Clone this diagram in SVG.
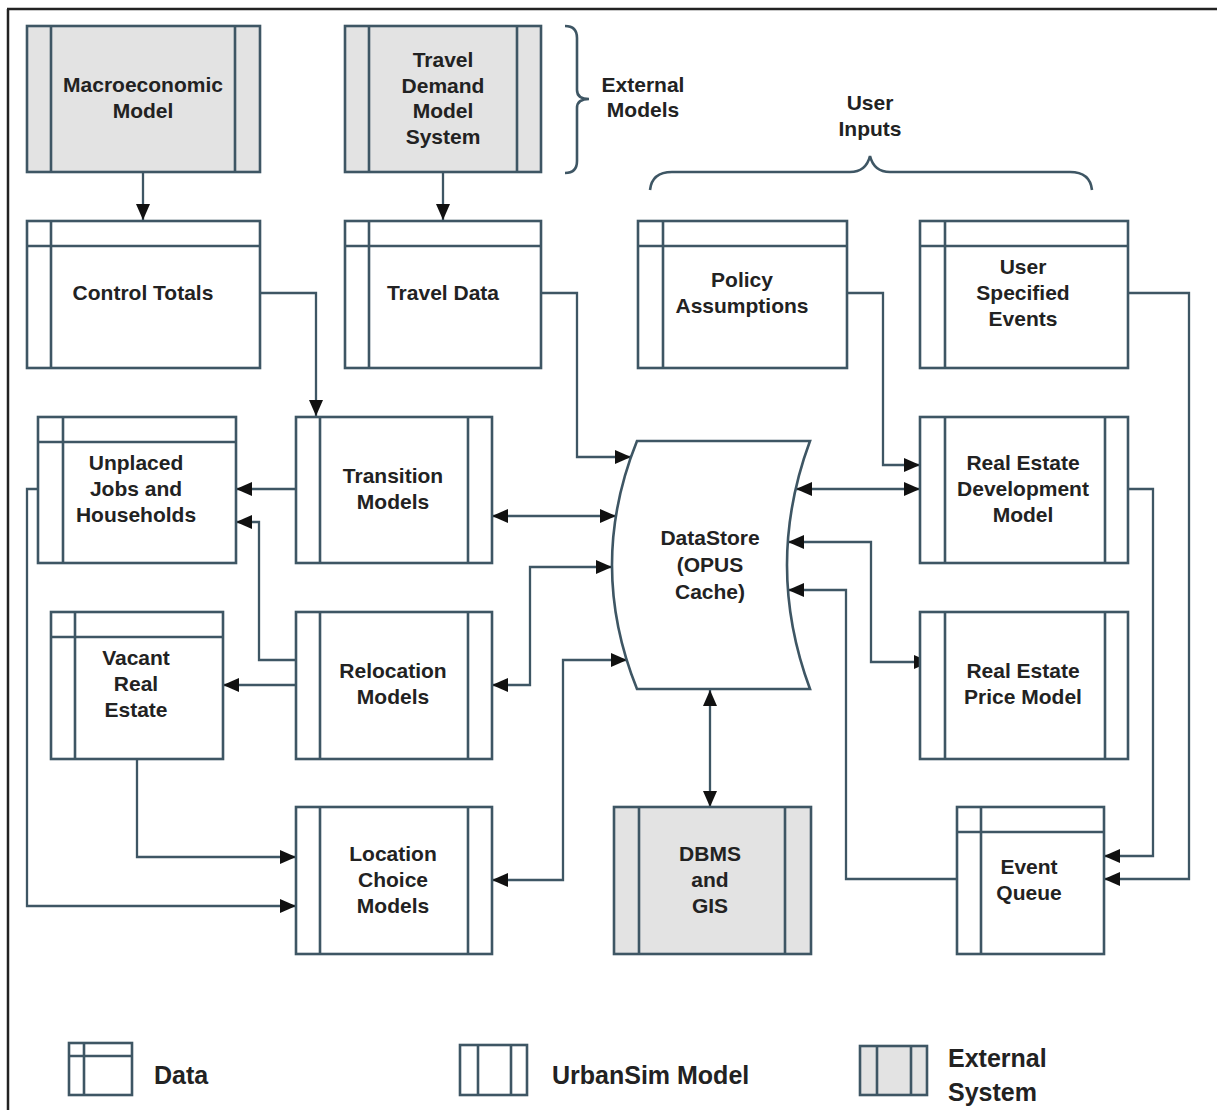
<svg xmlns="http://www.w3.org/2000/svg" width="1217" height="1110" viewBox="0 0 1217 1110">
<style>
.box{fill:#ffffff;stroke:#3e5664;stroke-width:2.6}
.ext{fill:#e3e3e3;stroke:#3e5664;stroke-width:2.6}
.ln{fill:none;stroke:#3e5664;stroke-width:2.6}
.con{fill:none;stroke:#3e5664;stroke-width:2.3}
.t{font-family:"Liberation Sans",Arial,sans-serif;font-weight:bold;font-size:21px;fill:#222222;text-anchor:middle}
.lg{font-family:"Liberation Sans",Arial,sans-serif;font-weight:bold;font-size:25px;fill:#222222}
</style>
<defs>
<marker id="ah" viewBox="0 0 16 14" refX="16" refY="7" markerWidth="16" markerHeight="14" markerUnits="userSpaceOnUse" orient="auto-start-reverse">
<path d="M0,0 L16,7 L0,14 z" fill="#111"/>
</marker>
</defs>
<rect width="1217" height="1110" fill="#ffffff"/>
<g id="frame">
<path d="M7,9 H1217 M8,9 V1110" fill="none" stroke="#222" stroke-width="2.5"/>
</g>

<g id="connectors">
<path class="con" d="M143,172 V220" marker-end="url(#ah)"/>
<path class="con" d="M443,172 V220" marker-end="url(#ah)"/>
<path class="con" d="M260,293 H316 V416" marker-end="url(#ah)"/>
<path class="con" d="M541,293 H577 V457 H631" marker-end="url(#ah)"/>
<path class="con" d="M848,293 H883 V465 H920" marker-end="url(#ah)"/>
<path class="con" d="M1128,293 H1189 V879 H1104" marker-end="url(#ah)"/>
<path class="con" d="M296,489 H236" marker-end="url(#ah)"/>
<path class="con" d="M296,660 H259 V522 H236" marker-end="url(#ah)"/>
<path class="con" d="M296,685 H223" marker-end="url(#ah)"/>
<path class="con" d="M492,516 H616" marker-start="url(#ah)" marker-end="url(#ah)"/>
<path class="con" d="M612,567 H530 V685 H492" marker-start="url(#ah)" marker-end="url(#ah)"/>
<path class="con" d="M627,660 H563 V880 H492" marker-start="url(#ah)" marker-end="url(#ah)"/>
<path class="con" d="M38,489 H27 V906 H296" marker-end="url(#ah)"/>
<path class="con" d="M137,759 V857 H296" marker-end="url(#ah)"/>
<path class="con" d="M710,690 V807" marker-start="url(#ah)" marker-end="url(#ah)"/>
<path class="con" d="M796,489 H920" marker-start="url(#ah)" marker-end="url(#ah)"/>
<path class="con" d="M788,542 H871 V662 H930" marker-start="url(#ah)" marker-end="url(#ah)"/>
<path class="con" d="M957,879 H846 V590 H788" marker-end="url(#ah)"/>
<path class="con" d="M1128,489 H1153 V856 H1104" marker-end="url(#ah)"/>
</g>

<g id="macroeconomic-model">
<rect class="ext" x="27" y="26" width="233" height="146"/>
<path class="ln" d="M51,26 V172 M235,26 V172"/>
<text class="t" x="143" y="92">Macroeconomic</text>
<text class="t" x="143" y="118">Model</text>
</g>

<g id="travel-demand-model-system">
<rect class="ext" x="345" y="26" width="196" height="146"/>
<path class="ln" d="M369,26 V172 M517,26 V172"/>
<text class="t" x="443" y="67">Travel</text>
<text class="t" x="443" y="93">Demand</text>
<text class="t" x="443" y="118">Model</text>
<text class="t" x="443" y="144">System</text>
</g>

<g id="external-models-label">
<path class="ln" d="M565,26 Q577,26 577,38 V90 Q577,99 589,99 Q577,99 577,108 V161 Q577,173 565,173"/>
<text class="t" x="643" y="92">External</text>
<text class="t" x="643" y="117">Models</text>
</g>

<g id="user-inputs-label">
<path class="ln" d="M650,190 Q652,172 672,172 H850 Q866,172 870,156 Q874,172 890,172 H1070 Q1090,172 1092,190"/>
<text class="t" x="870" y="110">User</text>
<text class="t" x="870" y="136">Inputs</text>
</g>

<g id="control-totals">
<rect class="box" x="27" y="221" width="233" height="147"/>
<path class="ln" d="M27,246 H260 M51,221 V368"/>
<text class="t" x="143" y="300">Control Totals</text>
</g>

<g id="travel-data">
<rect class="box" x="345" y="221" width="196" height="147"/>
<path class="ln" d="M345,246 H541 M369,221 V368"/>
<text class="t" x="443" y="300">Travel Data</text>
</g>

<g id="policy-assumptions">
<rect class="box" x="638" y="221" width="209" height="147"/>
<path class="ln" d="M638,246 H847 M663,221 V368"/>
<text class="t" x="742" y="287">Policy</text>
<text class="t" x="742" y="313">Assumptions</text>
</g>

<g id="user-specified-events">
<rect class="box" x="920" y="221" width="208" height="147"/>
<path class="ln" d="M920,246 H1128 M945,221 V368"/>
<text class="t" x="1023" y="274">User</text>
<text class="t" x="1023" y="300">Specified</text>
<text class="t" x="1023" y="326">Events</text>
</g>

<g id="unplaced-jobs-and-households">
<rect class="box" x="38" y="417" width="198" height="146"/>
<path class="ln" d="M38,442 H236 M63,417 V563"/>
<text class="t" x="136" y="470">Unplaced</text>
<text class="t" x="136" y="496">Jobs and</text>
<text class="t" x="136" y="522">Households</text>
</g>

<g id="transition-models">
<rect class="box" x="296" y="417" width="196" height="146"/>
<path class="ln" d="M320,417 V563 M468,417 V563"/>
<text class="t" x="393" y="483">Transition</text>
<text class="t" x="393" y="509">Models</text>
</g>

<g id="datastore">
<path class="box" d="M637,441 H810 Q764,565 810,689 H637 Q587,565 637,441 Z"/>
<text class="t" x="710" y="545">DataStore</text>
<text class="t" x="710" y="572">(OPUS</text>
<text class="t" x="710" y="599">Cache)</text>
</g>

<g id="real-estate-development-model">
<rect class="box" x="920" y="417" width="208" height="146"/>
<path class="ln" d="M945,417 V563 M1105,417 V563"/>
<text class="t" x="1023" y="470">Real Estate</text>
<text class="t" x="1023" y="496">Development</text>
<text class="t" x="1023" y="522">Model</text>
</g>

<g id="vacant-real-estate">
<rect class="box" x="51" y="612" width="172" height="147"/>
<path class="ln" d="M51,637 H223 M75,612 V759"/>
<text class="t" x="136" y="665">Vacant</text>
<text class="t" x="136" y="691">Real</text>
<text class="t" x="136" y="717">Estate</text>
</g>

<g id="relocation-models">
<rect class="box" x="296" y="612" width="196" height="147"/>
<path class="ln" d="M320,612 V759 M468,612 V759"/>
<text class="t" x="393" y="678">Relocation</text>
<text class="t" x="393" y="704">Models</text>
</g>

<g id="real-estate-price-model">
<rect class="box" x="920" y="612" width="208" height="147"/>
<path class="ln" d="M945,612 V759 M1105,612 V759"/>
<text class="t" x="1023" y="678">Real Estate</text>
<text class="t" x="1023" y="704">Price Model</text>
</g>

<g id="location-choice-models">
<rect class="box" x="296" y="807" width="196" height="147"/>
<path class="ln" d="M320,807 V954 M468,807 V954"/>
<text class="t" x="393" y="861">Location</text>
<text class="t" x="393" y="887">Choice</text>
<text class="t" x="393" y="913">Models</text>
</g>

<g id="dbms-and-gis">
<rect class="ext" x="614" y="807" width="197" height="147"/>
<path class="ln" d="M639,807 V954 M785,807 V954"/>
<text class="t" x="710" y="861">DBMS</text>
<text class="t" x="710" y="887">and</text>
<text class="t" x="710" y="913">GIS</text>
</g>

<g id="event-queue">
<rect class="box" x="957" y="807" width="147" height="147"/>
<path class="ln" d="M957,832 H1104 M981,807 V954"/>
<text class="t" x="1029" y="874">Event</text>
<text class="t" x="1029" y="900">Queue</text>
</g>

<g id="legend">
<g id="legend-data">
<rect class="box" x="69" y="1043" width="63" height="52"/>
<path class="ln" d="M69,1056 H132 M84,1043 V1095"/>
<text class="lg" x="154" y="1084">Data</text>
</g>
<g id="legend-urbansim">
<rect class="box" x="460" y="1045" width="67" height="50"/>
<path class="ln" d="M478,1045 V1095 M511,1045 V1095"/>
<text class="lg" x="552" y="1084">UrbanSim Model</text>
</g>
<g id="legend-external">
<rect class="ext" x="860" y="1046" width="67" height="49"/>
<path class="ln" d="M877,1046 V1095 M911,1046 V1095"/>
<text class="lg" x="948" y="1067">External</text>
<text class="lg" x="948" y="1101">System</text>
</g>
</g>
</svg>
